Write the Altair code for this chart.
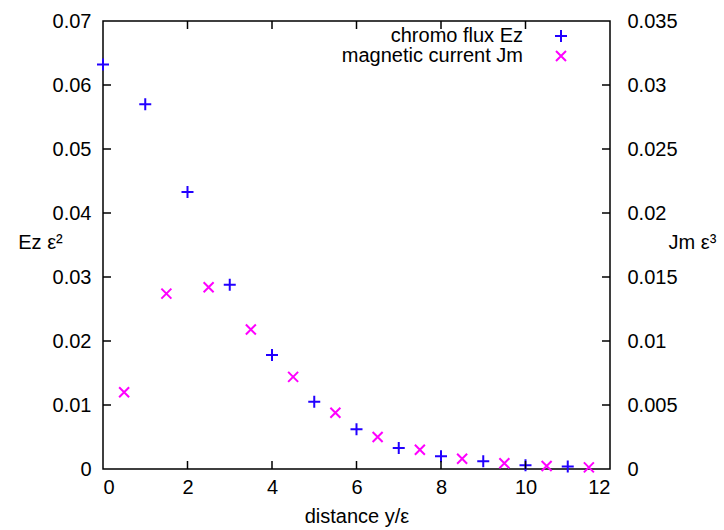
import altair as alt
import pandas as pd

# ---- data ----
ez_x = [0, 1, 2, 3, 4, 5, 6, 7, 8, 9, 10, 11]
ez_y = [0.0632, 0.0570, 0.0433, 0.0288, 0.0178, 0.0105, 0.0062, 0.0033, 0.0020, 0.0012, 0.0006, 0.0004]
jm_x = [0.5, 1.5, 2.5, 3.5, 4.5, 5.5, 6.5, 7.5, 8.5, 9.5, 10.5, 11.5]
jm_y = [0.0060, 0.0137, 0.0142, 0.0109, 0.0072, 0.0044, 0.0025, 0.0015, 0.0008, 0.00045, 0.00023, 0.00013]

x_ticks = [0, 2, 4, 6, 8, 10, 12]
left_ticks = [0, 0.01, 0.02, 0.03, 0.04, 0.05, 0.06, 0.07]
right_ticks = [0, 0.005, 0.01, 0.015, 0.02, 0.025, 0.03, 0.035]
legend_labels = ["chromo flux Ez", "magnetic current Jm"]

W, H = 507, 448
FONT = "Liberation Sans"
BLUE = "#2200ff"
MAGENTA = "#ff00ff"
PLUS = "M-1,0L1,0M0,-1L0,1"
CROSS = "M-1,-1L1,1M-1,1L1,-1"
TICK = 8

ez_df = pd.DataFrame({"x": ez_x, "y": ez_y})
jm_df = pd.DataFrame({"x": jm_x, "y": jm_y})

xscale = alt.Scale(domain=[0, 12], nice=False, zero=False)
xaxis = alt.Axis(values=x_ticks, tickSize=0, domain=False, grid=False, format="~g",
                 labelFontSize=20, labelPadding=8, title="distance y/ε",
                 titleFontSize=20, titleFontWeight="normal", titlePadding=9,
                 labelFont=FONT, titleFont=FONT, labelColor="black", titleColor="black")

ez_layer = alt.Chart(ez_df).mark_point(shape=PLUS, filled=False, strokeWidth=2, size=144,
                                       color=BLUE, opacity=1).encode(
    x=alt.X("x:Q", scale=xscale, axis=xaxis),
    y=alt.Y("y:Q", scale=alt.Scale(domain=[0, 0.07], nice=False),
            axis=alt.Axis(orient="left", values=left_ticks, tickSize=0, domain=False, grid=False,
                          format="~g",
                          labelFontSize=20, labelPadding=12, labelFont=FONT, labelColor="black",
                          title="Ez ε²", titleAngle=0, titleX=-63, titleY=221,
                          titleAlign="center", titleBaseline="middle",
                          titleFontSize=20, titleFontWeight="normal", titleFont=FONT,
                          titleColor="black"))
)

jm_layer = alt.Chart(jm_df).mark_point(shape=CROSS, filled=False, strokeWidth=2, size=100,
                                       color=MAGENTA, opacity=1).encode(
    x=alt.X("x:Q", scale=xscale),
    y=alt.Y("y:Q", scale=alt.Scale(domain=[0, 0.035], nice=False),
            axis=alt.Axis(orient="right", values=right_ticks, tickSize=0, domain=False, grid=False,
                          format="~g",
                          labelFontSize=20, labelPadding=17, labelFont=FONT, labelColor="black",
                          title="Jm ε³", titleAngle=0, titleX=82, titleY=221,
                          titleAlign="center", titleBaseline="middle",
                          titleFontSize=20, titleFontWeight="normal", titleFont=FONT,
                          titleColor="black"))
)

# inward tick marks (gnuplot style)
xt_df = pd.DataFrame({"x": x_ticks[1:-1]})
lt_df = pd.DataFrame({"y": left_ticks[1:-1]})
rt_df = pd.DataFrame({"y": right_ticks[1:-1]})

bottom_ticks = alt.Chart(xt_df).mark_rule(color="black", strokeWidth=1.5).encode(
    x=alt.X("x:Q", scale=xscale), y=alt.value(H), y2=alt.value(H - TICK))
top_ticks = alt.Chart(xt_df).mark_rule(color="black", strokeWidth=1.5).encode(
    x=alt.X("x:Q", scale=xscale), y=alt.value(0), y2=alt.value(TICK))
left_tick_layer = alt.Chart(lt_df).mark_rule(color="black", strokeWidth=1.5).encode(
    y=alt.Y("y:Q", scale=alt.Scale(domain=[0, 0.07], nice=False), axis=None),
    x=alt.value(0), x2=alt.value(TICK))
right_tick_layer = alt.Chart(rt_df).mark_rule(color="black", strokeWidth=1.5).encode(
    y=alt.Y("y:Q", scale=alt.Scale(domain=[0, 0.035], nice=False), axis=None),
    x=alt.value(W - TICK), x2=alt.value(W))

# key (text right-aligned, symbol on the right, as in gnuplot)
key_layers = []
for i, (lab, shp, col, sz) in enumerate(zip(legend_labels, [PLUS, CROSS], [BLUE, MAGENTA], [144, 100])):
    kd = pd.DataFrame({"label": [lab]})
    key_layers.append(alt.Chart(kd).mark_text(align="right", baseline="middle", font=FONT,
                                              fontSize=20, color="black").encode(
        text="label:N", x=alt.value(420), y=alt.value(15 + 20 * i)))
    key_layers.append(alt.Chart(kd).mark_point(shape=shp, filled=False, strokeWidth=2, size=sz,
                                               color=col, opacity=1).encode(
        x=alt.value(458), y=alt.value(15 + 20 * i)))

chart = alt.layer(
    ez_layer, jm_layer, bottom_ticks, top_ticks, left_tick_layer, right_tick_layer, *key_layers
).resolve_scale(y="independent").properties(
    width=W, height=H,
    autosize=alt.AutoSizeParams(type="none"),
    padding={"left": 103, "top": 21, "right": 114, "bottom": 61},
    background="white",
).configure_view(stroke="black", strokeWidth=1.5)

chart.save("out.html", embed_options={"renderer": "svg", "actions": False})
